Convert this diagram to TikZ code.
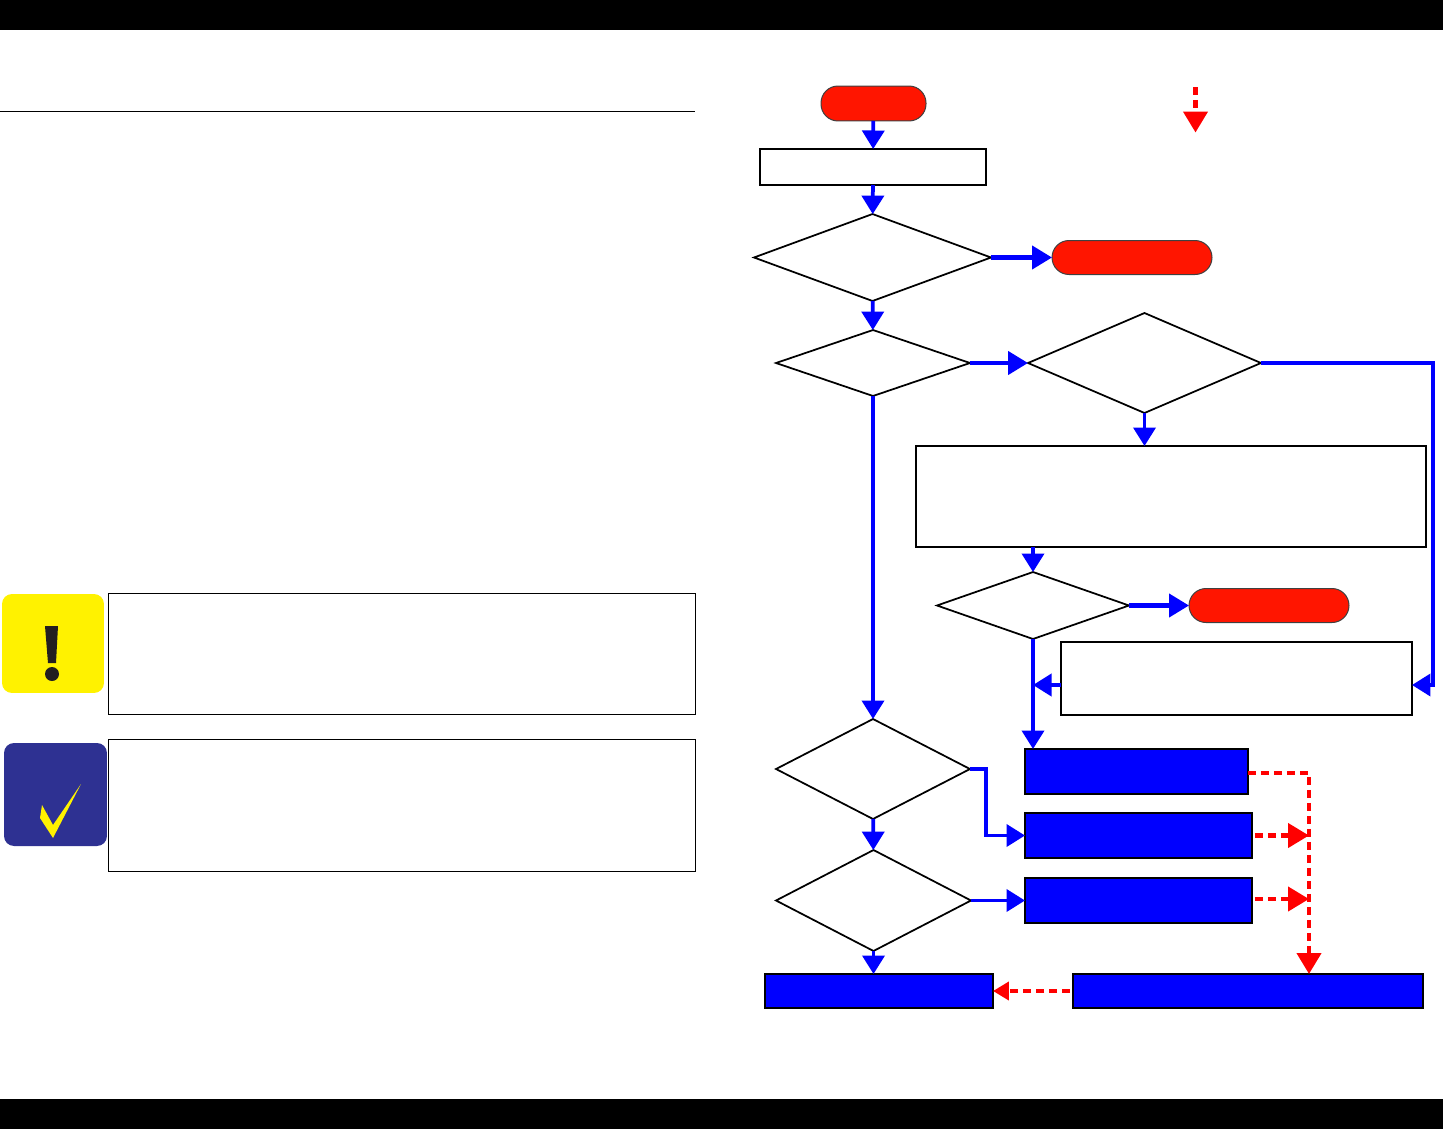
\documentclass[tikz,border=0pt]{standalone}
\usetikzlibrary{arrows.meta,shapes.geometric}
\definecolor{pillred}{HTML}{FF1500}
\definecolor{flowblue}{HTML}{0000FF}
\definecolor{dashred}{HTML}{FF0000}
\definecolor{notenavy}{HTML}{2E3192}
\definecolor{noteyellow}{HTML}{FFF200}
\definecolor{noteink}{HTML}{231F20}
\begin{document}
\begin{tikzpicture}[x=0.02cm,y=-0.02cm,line join=miter,
  pill/.style={draw=black!75,line width=0.02cm,fill=pillred,rounded corners=0.34cm,outer sep=0pt,inner sep=0pt},
  stepbox/.style={draw=black,line width=0.05cm,fill=white,outer sep=0pt,inner sep=0pt},
  actbox/.style={draw=black,line width=0.05cm,fill=flowblue,outer sep=0pt,inner sep=0pt},
  choice/.style={draw=black,line width=0.035cm,fill=white,shape=diamond,outer sep=0pt,inner sep=0pt},
  notebox/.style={draw=black,line width=0.02cm,fill=white,outer sep=0pt,inner sep=0pt},
  flow/.style={draw=flowblue,line width=0.075cm,-{Triangle[length=0.37cm,width=0.44cm]}},
  bigflow/.style={draw=flowblue,line width=0.085cm,-{Triangle[length=0.4cm,width=0.46cm]}},
  backflow/.style={draw=dashred,line width=0.085cm,dash pattern=on 0.16cm off 0.1cm,-{Triangle[length=0.42cm,width=0.48cm]}}]
\useasboundingbox (0,0) rectangle (1443,1129);
\fill[black] (0,0) rectangle (1443,29.5);
\fill[black] (0,1099) rectangle (1443,1129);
\node[minimum width=13.9cm,minimum height=0cm,draw=black,line width=0.025cm,inner sep=0pt,outer sep=0pt] (rule) at (347.5,111.5) {};
% notes on the left
\node[fill=noteyellow,rounded corners=0.2cm,minimum width=2.04cm,minimum height=1.98cm,inner sep=0pt] (warnicon) at (53,643.5) {};
\node[fill=notenavy,rounded corners=0.2cm,minimum width=2.06cm,minimum height=2.06cm,inner sep=0pt] (checkicon) at (55.5,794.5) {};
\node[notebox,minimum width=11.74cm,minimum height=2.44cm] (warnnote) at (402,654) {};
\node[notebox,minimum width=11.74cm,minimum height=2.64cm] (checknote) at (402,805.5) {};
\fill[noteink] (45,626) -- (58,626) -- (56,663) -- (48,663) -- cycle;
\fill[noteink] (52,674) circle (7);
\fill[noteyellow] (81,784) -- (53,825) -- (42,805) -- (40,818) -- (53,838) -- cycle;
% flow chart
\node[pill,minimum width=2.1cm,minimum height=0.7cm] (start) at (873.5,103.5) {};
\node[stepbox,minimum width=4.52cm,minimum height=0.72cm] (first) at (873,167) {};
\node[choice,minimum width=4.74cm,minimum height=1.74cm] (ask1) at (872.5,257.5) {};
\node[pill,minimum width=3.2cm,minimum height=0.68cm] (stop1) at (1132,257.5) {};
\node[choice,minimum width=3.88cm,minimum height=1.32cm] (ask2) at (873,363) {};
\node[choice,minimum width=4.66cm,minimum height=2cm] (ask3) at (1144.5,363) {};
\node[stepbox,minimum width=10.2cm,minimum height=2.02cm] (second) at (1171,496.5) {};
\node[choice,minimum width=3.84cm,minimum height=1.34cm] (ask4) at (1033,605.5) {};
\node[pill,minimum width=3.2cm,minimum height=0.68cm] (stop2) at (1269,605.5) {};
\node[stepbox,minimum width=7.02cm,minimum height=1.46cm] (third) at (1236.5,678.5) {};
\node[choice,minimum width=3.88cm,minimum height=2cm] (ask5) at (873,769) {};
\node[choice,minimum width=3.9cm,minimum height=2.02cm] (ask6) at (873.5,900.5) {};
\node[actbox,minimum width=4.46cm,minimum height=0.9cm] (act1) at (1136.5,771.5) {};
\node[actbox,minimum width=4.54cm,minimum height=0.9cm] (act2) at (1138.5,835.5) {};
\node[actbox,minimum width=4.54cm,minimum height=0.9cm] (act3) at (1138.5,900.5) {};
\node[actbox,minimum width=4.56cm,minimum height=0.68cm] (act4) at (879,991) {};
\node[actbox,minimum width=7cm,minimum height=0.68cm] (act5) at (1248,991) {};
\coordinate (rail) at (1433,685);
\coordinate (bus) at (1309,974);
\coordinate (legtop) at (1195.5,87);
\coordinate (legend) at (1195.5,132.5);
\draw[flow] (start) -- (first);
\draw[flow] (first) -- (ask1);
\draw[bigflow] (ask1) -- (stop1);
\draw[flow] (ask1) -- (ask2);
\draw[bigflow] (ask2) -- (ask3);
\draw[flow] (ask2) -- (ask5);
\draw[flow] (ask3.south) -- (ask3.south |- second.north);
\draw[flow] (ask3.east) -| (rail) -- (third.east |- rail);
\draw[flow] (second.south -| ask4.north) -- (ask4.north);
\draw[bigflow] (ask4) -- (stop2);
\draw[flow] (ask4.south) -- (ask4.south |- act1.north);
\draw[flow] (third.west |- rail) -- (ask4.south |- rail);
\draw[flow] (ask5.east) -- ++(16,0) |- (act2.west);
\draw[flow] (ask5) -- (ask6);
\draw[flow] (ask6) -- (act3);
\draw[flow] (ask6.south) -- (ask6.south |- act4.north);
\draw[backflow] ([yshift=-0.03cm]act1.east) -| (bus);
\draw[backflow,shorten <=0.06cm] (act2.east) -- (act2.east -| bus);
\draw[backflow,shorten <=0.06cm] ([yshift=0.03cm]act3.east) -- ([yshift=0.03cm]act3.east -| bus);
\draw[backflow,shorten <=0.06cm,-{Triangle[length=0.32cm,width=0.36cm]}] (act5) -- (act4);
\draw[backflow] (legtop) -- (legend);
\end{tikzpicture}
\end{document}
